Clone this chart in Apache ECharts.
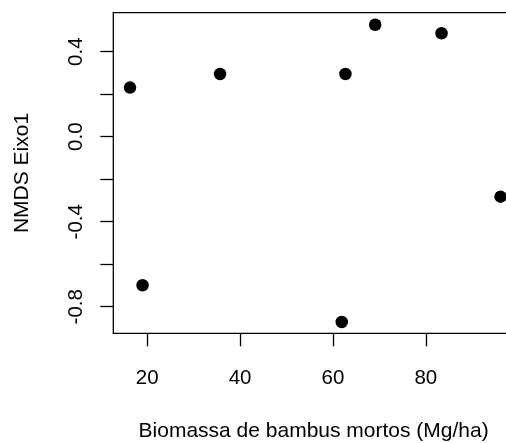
<!DOCTYPE html>
<html>
<head>
<meta charset="utf-8">
<script src="https://cdn.jsdelivr.net/npm/echarts@6/dist/echarts.min.js"></script>
<style>
html,body{margin:0;padding:0;background:#fff;}
#chart{width:506px;height:443px;}
</style>
</head>
<body>
<div id="chart"></div>
<script>
// Data
const biomassa = [16.3, 19.0, 35.7, 61.9, 62.7, 69.1, 83.4, 96.1];
const nmds1    = [0.231, -0.699, 0.295, -0.872, 0.295, 0.527, 0.487, -0.282];
const xTicks = [20, 40, 60, 80];
const yTicks = [-0.8, -0.6, -0.4, -0.2, 0.0, 0.2, 0.4];
const yTickLabels = [-0.8, -0.4, 0.0, 0.4];
const xTitle = 'Biomassa de bambus mortos (Mg/ha)';
const yTitle = 'NMDS Eixo1';

const points = biomassa.map((x, i) => [x, nmds1[i]]);
const font = 'Liberation Sans, Arial, sans-serif';

const chart = echarts.init(document.getElementById('chart'), null, {renderer: 'canvas'});
chart.setOption({
  animation: false,
  backgroundColor: '#ffffff',
  grid: {
    left: 113.3, top: 12.7, width: 400.7, height: 320.6,
    outerBoundsMode: 'none', containLabel: false,
    show: true, borderColor: '#000', borderWidth: 1.3, backgroundColor: 'transparent'
  },
  xAxis: {
    type: 'value', min: 12.7, max: 99.0,
    axisLine: {show: false, onZero: false},
    splitLine: {show: false},
    axisTick: {show: true, customValues: xTicks, length: 13, inside: false, lineStyle: {color: '#000', width: 1.3}},
    axisLabel: {show: true, customValues: xTicks, margin: 35, color: '#000', fontSize: 20.5, fontFamily: font,
      formatter: v => String(v)},
    name: xTitle, nameLocation: 'middle', nameGap: 87.5,
    nameTextStyle: {color: '#000', fontSize: 21, fontFamily: font}
  },
  yAxis: {
    type: 'value', min: -0.925, max: 0.5835,
    axisLine: {show: false, onZero: false},
    splitLine: {show: false},
    axisTick: {show: true, customValues: yTicks, length: 13, inside: false, lineStyle: {color: '#000', width: 1.3}},
    axisLabel: {show: true, customValues: yTickLabels, rotate: 90, margin: 26.5, align: 'center', verticalAlign: 'bottom',
      color: '#000', fontSize: 20.5, fontFamily: font,
      formatter: v => v.toFixed(1)},
    name: yTitle, nameLocation: 'middle', nameGap: 80.5, nameRotate: 90,
    nameTextStyle: {color: '#000', fontSize: 21, fontFamily: font}
  },
  series: [{
    type: 'scatter',
    data: points,
    symbol: 'circle',
    symbolSize: 12.5,
    itemStyle: {color: '#000', opacity: 1},
    clip: true
  }]
});
</script>
</body>
</html>
